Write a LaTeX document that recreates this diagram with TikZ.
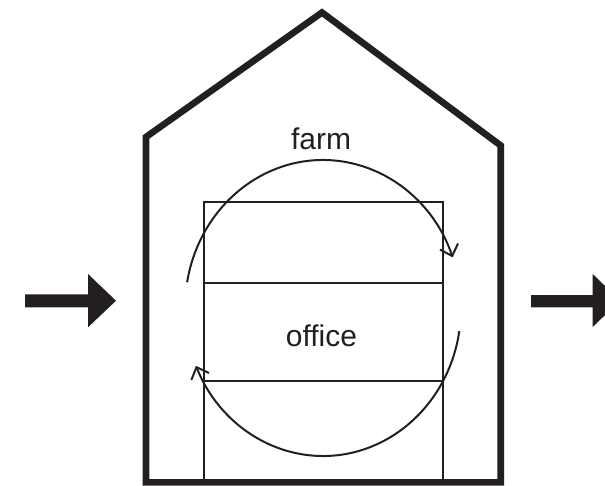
\documentclass[tikz,border=0pt]{standalone}
\usepackage{fontspec}
\setmainfont{Liberation Sans}
\usetikzlibrary{arrows.meta}
\definecolor{ink}{RGB}{35,31,32}
\begin{document}
\begin{tikzpicture}[x=1pt,y=-1pt,
  wall/.style={draw=ink, line width=6.6pt, line join=miter},
  thinline/.style={draw=ink, line width=2pt},
  cyc/.style={draw=ink, line width=2pt, -{Straight Barb[length=10pt,width=19pt,line width=2pt]}},
  blockarrow/.style={fill=ink, draw=none},
  lbl/.style={text=ink, font=\fontsize{30pt}{36pt}\selectfont, anchor=base, inner sep=0pt}]
\clip (0,0) rectangle (605,485);
% house outline
\draw[wall] (146,482.3) -- (146,137) -- (322,12.5) -- (500.7,145.5) -- (500.7,482.3) -- cycle;
% inner stack
\draw[thinline] (203.7,482) -- (203.7,201.7) -- (443.2,201.7) -- (443.2,482);
\draw[thinline] (203.7,282.7) -- (443.2,282.7);
\draw[thinline] (203.7,380.7) -- (443.2,380.7);
% labels
\node[lbl] (farm) at (321,149) {farm};
\node[lbl] (office) at (321.5,346.7) {office};
% cycle arrows
\coordinate (c) at (323,308);
\draw[cyc] (c) ++(-170:138 and 148) arc[start angle=-170, end angle=-20, x radius=138, y radius=148];
\draw[cyc] (c) ++(9:138 and 148) arc[start angle=9, end angle=157, x radius=138, y radius=148];
% block arrows
\fill[blockarrow] (25,294.3) -- (88,294.3) -- (88,274) -- (116,300.7) -- (88,327.3) -- (88,307.3) -- (25,307.3) -- cycle;
\fill[blockarrow] (531,295) -- (592.7,295) -- (592.7,274) -- (620,300.5) -- (592.7,327) -- (592.7,307.3) -- (531,307.3) -- cycle;
\end{tikzpicture}
\end{document}
